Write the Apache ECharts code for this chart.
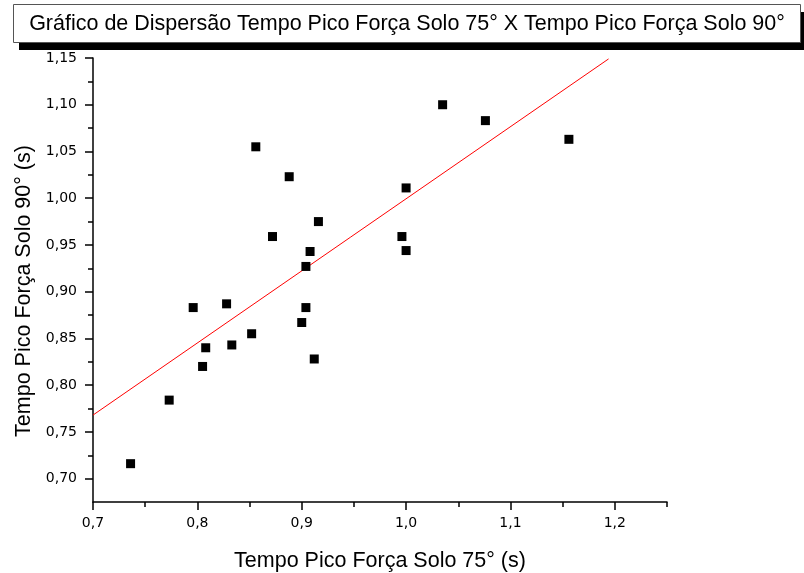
<!DOCTYPE html>
<html>
<head>
    <meta charset="utf-8">
    <title>Dispersão</title>
    <script type="text/javascript" src="https://cdn.jsdelivr.net/npm/echarts@6/dist/echarts.min.js"></script>
    <style>
        body { margin: 0; background: #fff; }
        #main { width: 804px; height: 573px; }
    </style>
</head>
<body>
    <div id="main"></div>
    <script type="text/javascript">
    // dados
    var tempo75 = [0.736, 0.773, 0.796, 0.805, 0.808, 0.828, 0.833, 0.852, 0.856, 0.872,
                   0.888, 0.900, 0.904, 0.904, 0.908, 0.912, 0.916, 0.996, 1.000, 1.000,
                   1.035, 1.076, 1.156];
    var tempo90 = [0.716, 0.784, 0.883, 0.820, 0.840, 0.887, 0.843, 0.855, 1.055, 0.959,
                   1.023, 0.867, 0.927, 0.883, 0.943, 0.828, 0.975, 0.959, 0.944, 1.011,
                   1.100, 1.083, 1.063];
    // reta de ajuste linear (extremos)
    var fitX = [0.7, 1.194];
    var fitY = [0.768, 1.149];

    var xMajor = [0.7, 0.8, 0.9, 1.0, 1.1, 1.2];
    var xMinor = [0.75, 0.85, 0.95, 1.05, 1.15, 1.25];
    var yMajor = [0.70, 0.75, 0.80, 0.85, 0.90, 0.95, 1.00, 1.05, 1.10, 1.15];
    var yMinor = [0.725, 0.775, 0.825, 0.875, 0.925, 0.975, 1.025, 1.075, 1.125];

    var pontos = [];
    for (var i = 0; i < tempo75.length; i++) {
        pontos.push([tempo75[i], tempo90[i]]);
    }
    var reta = [];
    for (var j = 0; j < fitX.length; j++) {
        reta.push([fitX[j], fitY[j]]);
    }

    var fonte = 'Liberation Sans, Arial, sans-serif';
    var fonteEixo = 'DejaVu Sans, sans-serif';

    var myChart = echarts.init(document.getElementById('main'));
    var option = {
        animation: false,
        graphic: [{
            type: 'rect',
            shape: { x: 19, y: 12, width: 790, height: 38 },
            style: { fill: '#000' },
            z: 10
        }, {
            type: 'rect',
            shape: { x: 13.5, y: 4.5, width: 787, height: 38 },
            style: { fill: '#fff', stroke: '#555', lineWidth: 1 },
            z: 11
        }, {
            type: 'text',
            x: 407,
            y: 24,
            z: 12,
            style: {
                text: 'Gráfico de Dispersão Tempo Pico Força Solo 75° X Tempo Pico Força Solo 90°',
                fontFamily: fonte,
                fontSize: 21.5,
                fill: '#000',
                align: 'center',
                verticalAlign: 'middle'
            }
        }],
        grid: {
            left: 93,
            right: 137,
            top: 58,
            bottom: 71,
            outerBoundsMode: 'none'
        },
        xAxis: [{
            type: 'value',
            min: 0.7,
            max: 1.25,
            position: 'bottom',
            name: 'Tempo Pico Força Solo 75° (s)',
            nameLocation: 'middle',
            nameGap: 48,
            nameTextStyle: { fontFamily: fonte, fontSize: 21.5, color: '#000' },
            splitLine: { show: false },
            axisLine: { lineStyle: { color: '#000', width: 1.5 } },
            axisTick: { customValues: xMajor, length: 8, inside: false, lineStyle: { color: '#000', width: 1.5 } },
            axisLabel: {
                customValues: xMajor,
                margin: 14,
                fontFamily: fonteEixo,
                fontSize: 14,
                color: '#000',
                formatter: function (v) { return v.toFixed(1).replace('.', ','); }
            }
        }, {
            type: 'value',
            min: 0.7,
            max: 1.25,
            position: 'bottom',
            splitLine: { show: false },
            axisLine: { show: false },
            axisTick: { customValues: xMinor, length: 5, lineStyle: { color: '#000', width: 1.5 } },
            axisLabel: { show: false }
        }],
        yAxis: [{
            type: 'value',
            min: 0.675,
            max: 1.15,
            position: 'left',
            name: 'Tempo Pico Força Solo 90° (s)',
            nameLocation: 'middle',
            nameGap: 58,
            nameTextStyle: { fontFamily: fonte, fontSize: 21.5, color: '#000', padding: [0, 22, 0, 0] },
            splitLine: { show: false },
            axisLine: { lineStyle: { color: '#000', width: 1.5 } },
            axisTick: { customValues: yMajor, length: 8, lineStyle: { color: '#000', width: 1.5 } },
            axisLabel: {
                customValues: yMajor,
                margin: 16,
                fontFamily: fonteEixo,
                fontSize: 14,
                color: '#000',
                formatter: function (v) { return v.toFixed(2).replace('.', ','); }
            }
        }, {
            type: 'value',
            min: 0.675,
            max: 1.15,
            position: 'left',
            splitLine: { show: false },
            axisLine: { show: false },
            axisTick: { customValues: yMinor, length: 5, lineStyle: { color: '#000', width: 1.5 } },
            axisLabel: { show: false }
        }],
        series: [{
            name: 'ajuste',
            type: 'line',
            xAxisIndex: 0,
            yAxisIndex: 0,
            data: reta,
            symbol: 'none',
            lineStyle: { color: '#ff0000', width: 1 },
            z: 2
        }, {
            name: 'dados',
            type: 'scatter',
            xAxisIndex: 0,
            yAxisIndex: 0,
            data: pontos,
            symbol: 'rect',
            symbolSize: 9,
            itemStyle: { color: '#000', opacity: 1 },
            z: 3
        }]
    };
    myChart.setOption(option);
    </script>
</body>
</html>
